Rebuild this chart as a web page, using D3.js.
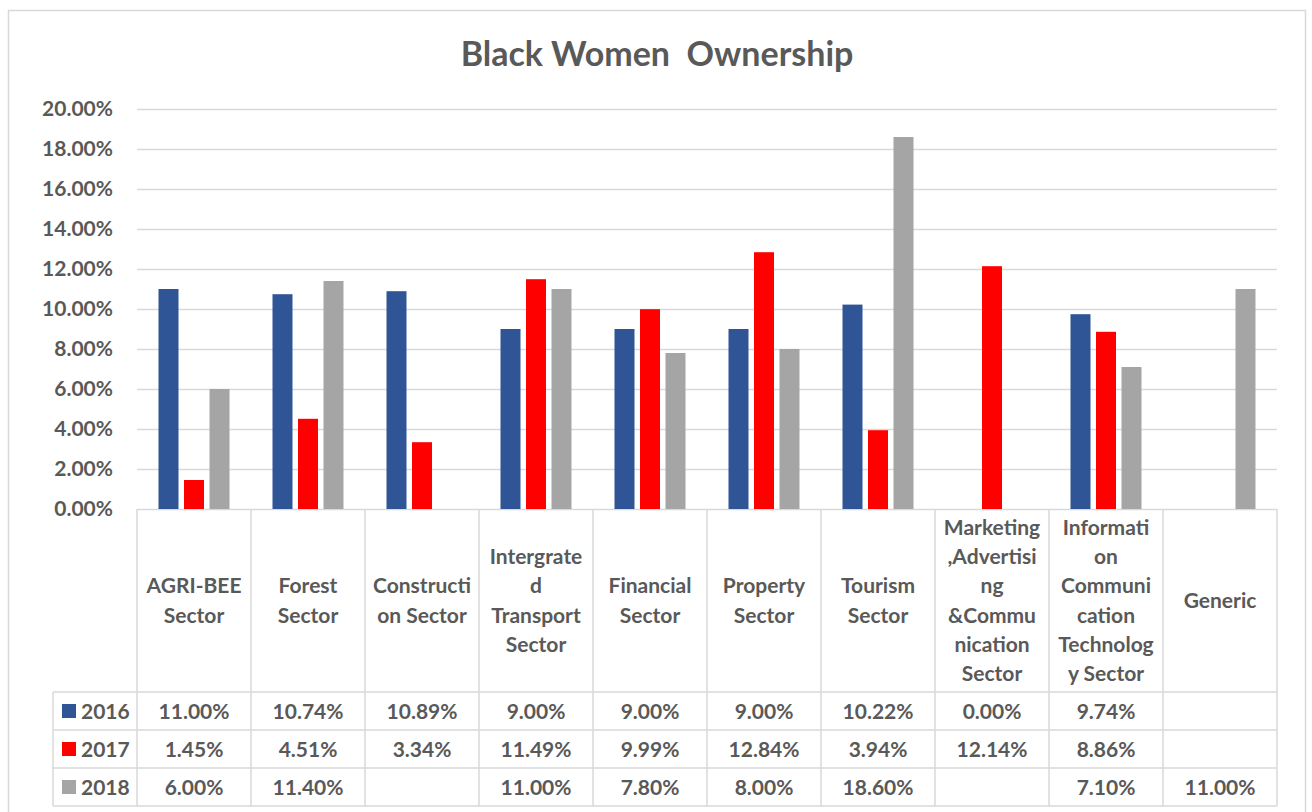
<!DOCTYPE html>
<html><head><meta charset="utf-8">
<script src="https://cdn.jsdelivr.net/npm/d3@7"></script>
<style>
html,body{margin:0;padding:0;background:#fff;}
svg{display:block;}
text{font-family:"Lato","Open Sans",sans-serif;font-weight:700;fill:#595959;}
</style></head>
<body>
<svg id="chart" width="1312" height="812"></svg>
<script>
const title = "Black Women  Ownership";
const categories = ["AGRI-BEE Sector","Forest Sector","Construction Sector","Intergrated Transport Sector","Financial Sector","Property Sector","Tourism Sector","Marketing ,Advertising &Communication Sector","Information Communication Technology Sector","Generic"];
const categoryLines = [
  ["AGRI-BEE","Sector"],
  ["Forest","Sector"],
  ["Constructi","on Sector"],
  ["Intergrate","d","Transport","Sector"],
  ["Financial","Sector"],
  ["Property","Sector"],
  ["Tourism","Sector"],
  ["Marketing",",Advertisi","ng","&Commu","nication","Sector"],
  ["Informati","on","Communi","cation","Technolog","y Sector"],
  ["Generic"]
];
const years = ["2016","2017","2018"];
const values2016 = [0.1100,0.1074,0.1089,0.0900,0.0900,0.0900,0.1022,0.0000,0.0974,null];
const values2017 = [0.0145,0.0451,0.0334,0.1149,0.0999,0.1284,0.0394,0.1214,0.0886,null];
const values2018 = [0.0600,0.1140,null,0.1100,0.0780,0.0800,0.1860,null,0.0710,0.1100];
const colors = ["#2F5597","#FF0000","#A5A5A5"];
const yTicks = [0,0.02,0.04,0.06,0.08,0.10,0.12,0.14,0.16,0.18,0.20];

const seriesValues = [values2016, values2017, values2018];
const svg = d3.select("#chart");
const grid = "#D9D9D9";
const fmt = d3.format(".2%");
const fs = "21px";

// outer border
svg.append("rect").attr("x",8.5).attr("y",10.5).attr("width",1297).attr("height",820)
  .attr("fill","none").attr("stroke",grid).attr("stroke-width",1.5);

svg.append("text").attr("x",657).attr("y",66).attr("text-anchor","middle")
  .attr("xml:space","preserve").style("white-space","pre")
  .style("font-size","34px").text(title);

const x = d3.scaleBand().domain(d3.range(categories.length)).range([137,1277]).padding(0);
const y = d3.scaleLinear().domain([0,0.2]).range([509,109]);
const bw = x.bandwidth();
const xs = d3.scaleBand().domain(years).range([bw*0.1886, bw*0.8114]).paddingInner(0.216).paddingOuter(0);

// gridlines
svg.append("g").selectAll("line").data(yTicks).join("line")
  .attr("x1",137).attr("x2",1277)
  .attr("y1",d=>Math.round(y(d))+0.5).attr("y2",d=>Math.round(y(d))+0.5)
  .attr("stroke",grid).attr("stroke-width",1.5);

// y axis labels
const yAxis = d3.axisLeft(y).tickValues(yTicks).tickFormat(fmt).tickSize(0).tickPadding(24);
const ga = svg.append("g").attr("transform","translate(137,0)").call(yAxis);
ga.select(".domain").remove();
ga.selectAll("text").attr("fill","#595959").style("font-size",fs).style("font-family","Lato, 'Open Sans', sans-serif").style("font-weight","700");

// bars
years.forEach((yr,si)=>{
  const data = seriesValues[si].map((v,i)=>({v,i})).filter(d=>d.v!==null && d.v>0);
  svg.append("g").selectAll("rect").data(data).join("rect")
    .attr("x",d=>x(d.i)+xs(yr))
    .attr("width",xs.bandwidth())
    .attr("y",d=>y(d.v))
    .attr("height",d=>y(0)-y(d.v))
    .attr("fill",colors[si]);
});

// table
const tableTop = 509, headerBottom = 692, rowH = 38;
const tbl = svg.append("g");
const lineColor = "#D9D9D9";
const colEdges = d3.range(categories.length+1).map(i=> i<categories.length ? x(i) : x(i-1)+bw);
tbl.selectAll("line.v").data(colEdges).join("line")
  .attr("x1",d=>d).attr("x2",d=>d).attr("y1",tableTop).attr("y2",headerBottom+rowH*3)
  .attr("stroke",lineColor).attr("stroke-width",1.5);
tbl.append("line").attr("x1",53).attr("x2",53).attr("y1",headerBottom).attr("y2",headerBottom+rowH*3)
  .attr("stroke",lineColor).attr("stroke-width",1.5);
tbl.selectAll("line.h").data(d3.range(4)).join("line")
  .attr("x1",53).attr("x2",1277)
  .attr("y1",d=>headerBottom+d*rowH).attr("y2",d=>headerBottom+d*rowH)
  .attr("stroke",lineColor).attr("stroke-width",1.5);

// header labels
const lh = 29.2;
categoryLines.forEach((lines,i)=>{
  const cx = x(i)+bw/2;
  const cy = (tableTop+headerBottom)/2;
  const t = tbl.append("text").attr("text-anchor","middle").style("font-size",fs);
  lines.forEach((l,k)=>{
    t.append("tspan").attr("x",cx).attr("y",cy + (k-(lines.length-1)/2)*lh + 7.5).text(l);
  });
});

// rows
years.forEach((yr,si)=>{
  const cy = headerBottom + si*rowH + rowH/2;
  tbl.append("rect").attr("x",62).attr("y",cy-7).attr("width",14).attr("height",14).attr("fill",colors[si]);
  tbl.append("text").attr("x",81).attr("y",cy+7.5).style("font-size",fs).text(yr);
  seriesValues[si].forEach((v,i)=>{
    if(v===null) return;
    tbl.append("text").attr("x",x(i)+bw/2).attr("y",cy+7.5).attr("text-anchor","middle")
      .style("font-size",fs).text(fmt(v));
  });
});
</script>
</body></html>
